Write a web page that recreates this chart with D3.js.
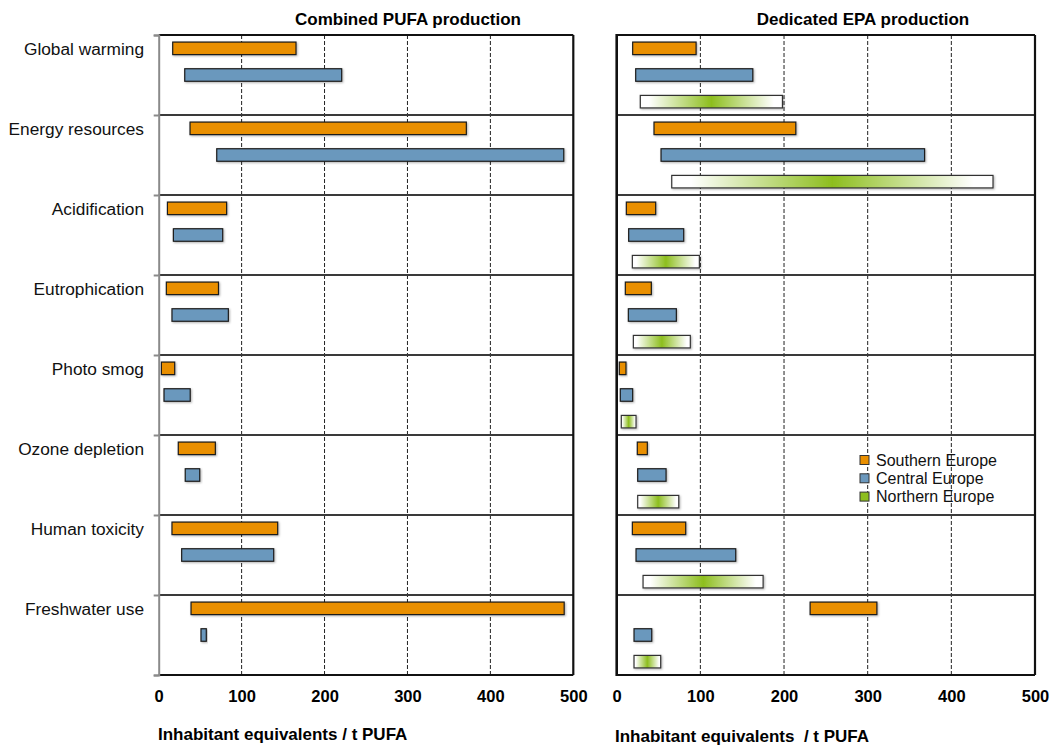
<!DOCTYPE html>
<html>
<head>
<meta charset="utf-8">
<script src="https://cdn.jsdelivr.net/npm/d3@7"></script>
<style>
  html, body { margin: 0; padding: 0; background: #fff; }
  svg { display: block; font-family: "Liberation Sans", Arial, Helvetica, sans-serif; }
</style>
</head>
<body>
<svg id="chart" width="1052" height="749"></svg>
<script>
// ---------- data ----------
const categories = ["Global warming", "Energy resources", "Acidification", "Eutrophication",
  "Photo smog", "Ozone depletion", "Human toxicity", "Freshwater use"];
const seriesNames = ["Southern Europe", "Central Europe", "Northern Europe"];
const xTicks = [0, 100, 200, 300, 400, 500];
// ranges [min, max] per category — Combined PUFA production
const southernCombined = [[16.9,165.6],[37.8,371],[10.5,81.9],[9.2,72.1],[3.2,19.3],[23.6,68.3],[16,143.5],[39,489]];
const centralCombined  = [[31.4,220.7],[70,488.5],[17.7,77.2],[16,84],[6.4,38],[32,49.5],[27.7,138.7],[51,57.4]];
// Dedicated EPA production
const southernEPA = [[19.1,94.9],[44.6,214.1],[11.5,46.6],[10.3,41.4],[3.1,11.1],[24.6,36.6],[18.7,82.5],[231.2,311]];
const centralEPA  = [[22.7,162.7],[53,368],[14.3,80.1],[13.9,71.3],[4.3,19.1],[25.1,59],[23.1,142.3],[20.7,41.9]];
const northernEPA = [[28.2,198.1],[65.8,449.8],[18.7,98.8],[19.9,88],[5.5,23.1],[25.1,74.2],[31.5,175],[20.7,52.6]];

const panelTitles = ["Combined PUFA production", "Dedicated EPA production"];
const axisTitles = ["Inhabitant equivalents / t PUFA", "Inhabitant equivalents  / t PUFA"];

// ---------- styles ----------
const colors = { "Southern Europe": "#e98f00", "Central Europe": "#6b98bd", "Northern Europe": "#8dbe1e" };

const svg = d3.select("#chart");
const defs = svg.append("defs");
const grad = defs.append("linearGradient").attr("id", "greenGrad")
  .attr("x1", "0%").attr("x2", "100%").attr("y1", "0%").attr("y2", "0%");
[[0, "#ffffff"], [0.06, "#ffffff"], [0.5, "#8dbe1e"], [0.94, "#ffffff"], [1, "#ffffff"]]
  .forEach(([o, c]) => grad.append("stop").attr("offset", o).attr("stop-color", c));
const shadow = defs.append("filter").attr("id", "shadow")
  .attr("x", "-10%").attr("y", "-30%").attr("width", "130%").attr("height", "180%");
shadow.append("feDropShadow").attr("dx", 1).attr("dy", 1).attr("stdDeviation", 0.8)
  .attr("flood-color", "#000").attr("flood-opacity", 0.3);

const plotTop = 35, plotBottom = 675;
const y = d3.scaleBand().domain(categories).range([plotTop, plotBottom]);
const sub = d3.scaleBand().domain(seriesNames).range([0, y.bandwidth()])
  .paddingInner(0.531).paddingOuter(0.2655);

const panels = [
  { x0: 158.7, x1: 573.3, title: panelTitles[0], titleX: 408, axisTitle: axisTitles[0], axX: 158, axY: 740,
    series: [["Southern Europe", southernCombined], ["Central Europe", centralCombined]], leftGray: true },
  { x0: 616.7, x1: 1035, title: panelTitles[1], titleX: 863, axisTitle: axisTitles[1], axX: 615, axY: 742,
    series: [["Southern Europe", southernEPA], ["Central Europe", centralEPA], ["Northern Europe", northernEPA]], leftGray: false }
];

panels.forEach(p => {
  const x = d3.scaleLinear().domain([0, 500]).range([p.x0, p.x1]);
  const g = svg.append("g");

  // dashed gridlines
  g.selectAll(".grid").data(xTicks.filter(t => t > 0 && t < 500)).join("line")
    .attr("x1", d => x(d)).attr("x2", d => x(d)).attr("y1", plotTop).attr("y2", plotBottom)
    .attr("stroke", "#222").attr("stroke-width", 1).attr("stroke-dasharray", "4,2");

  // row separators
  g.selectAll(".sep").data(categories.slice(1)).join("line")
    .attr("x1", p.x0).attr("x2", p.x1).attr("y1", d => y(d)).attr("y2", d => y(d))
    .attr("stroke", "#3a3a3a").attr("stroke-width", 1.8);

  // bars
  p.series.forEach(([name, data]) => {
    g.selectAll(null).data(data).join("rect")
      .attr("x", d => x(d[0]))
      .attr("y", (d, i) => y(categories[i]) + sub(name))
      .attr("width", d => x(d[1]) - x(d[0]))
      .attr("height", sub.bandwidth())
      .attr("fill", name === "Northern Europe" ? "url(#greenGrad)" : colors[name])
      .attr("stroke", name === "Northern Europe" ? "#333" : "#1a1a1a")
      .attr("stroke-width", 1.2)
      .attr("filter", "url(#shadow)");
  });

  // frame
  g.append("line").attr("x1", p.x0).attr("x2", p.x1).attr("y1", plotTop).attr("y2", plotTop)
    .attr("stroke", "#111").attr("stroke-width", 2.2);
  g.append("line").attr("x1", p.x0).attr("x2", p.x1).attr("y1", plotBottom).attr("y2", plotBottom)
    .attr("stroke", "#111").attr("stroke-width", 2.2);
  g.append("line").attr("x1", p.x1).attr("x2", p.x1).attr("y1", plotTop).attr("y2", plotBottom)
    .attr("stroke", "#111").attr("stroke-width", 2.2);
  if (p.leftGray) {
    const yAxis = d3.axisLeft(d3.scaleLinear().domain([0, categories.length]).range([plotBottom, plotTop]))
      .ticks(categories.length).tickSize(5).tickFormat("");
    const ya = svg.append("g").attr("transform", `translate(${p.x0},0)`).call(yAxis);
    ya.selectAll("path, line").attr("stroke", "#8a8a8a").attr("stroke-width", 2);
  } else {
    g.append("line").attr("x1", p.x0).attr("x2", p.x0).attr("y1", plotTop - 1).attr("y2", plotBottom + 1)
      .attr("stroke", "#111").attr("stroke-width", 2.6);
  }

  // x tick labels
  const xAxis = d3.axisBottom(x).tickValues(xTicks).tickSize(0).tickPadding(0).tickFormat(d3.format("d"));
  const xa = svg.append("g").attr("transform", `translate(0,${701.5})`).call(xAxis);
  xa.select(".domain").remove();
  xa.selectAll("text").attr("dy", 0).attr("y", 0)
    .attr("font-size", 16.5).attr("font-weight", "bold").attr("fill", "#000")
    .attr("font-family", "'Liberation Sans', Arial, sans-serif");

  // titles
  svg.append("text").attr("x", p.titleX).attr("y", 25).attr("text-anchor", "middle")
    .attr("font-size", 17).attr("font-weight", "bold").text(p.title);
  svg.append("text").attr("x", p.axX).attr("y", p.axY)
    .attr("font-size", 17).attr("font-weight", "bold").style("white-space", "pre").text(p.axisTitle);
});

// category labels
svg.selectAll(".cat").data(categories).join("text")
  .attr("x", 144).attr("y", d => y(d) + 19.5).attr("text-anchor", "end")
  .attr("font-size", 17.3).attr("fill", "#111").text(d => d);

// legend
const leg = svg.append("g").attr("transform", "translate(860,454)");
seriesNames.forEach((n, i) => {
  leg.append("rect").attr("x", 0).attr("y", i * 18.3 + 1.5).attr("width", 9).attr("height", 9)
    .attr("fill", colors[n]).attr("stroke", "#333").attr("stroke-width", 1);
  leg.append("text").attr("x", 16).attr("y", i * 18.3 + 11.5).attr("font-size", 16).attr("fill", "#111").text(n);
});
</script>
</body>
</html>
